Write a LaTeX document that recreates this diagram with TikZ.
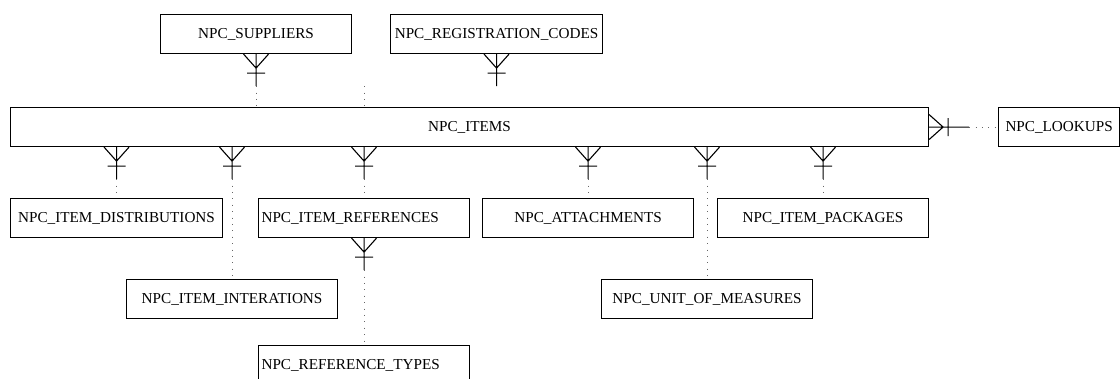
\documentclass[tikz,border=0pt]{standalone}
\usepackage{fontspec}
\setmainfont{Liberation Serif}
\usetikzlibrary{positioning}

\begin{document}
\begin{tikzpicture}[
  x=1pt, y=-1pt,
  every node/.style={font=\fontsize{15.2}{18}\selectfont},
  tbl/.style={rectangle, draw, line width=1.1pt, minimum width=211pt,
              minimum height=39pt, inner xsep=3pt, inner ysep=4pt,
              anchor=north west},
  tblleft/.style={tbl, text width=205pt, align=left},
  rel/.style={draw, line width=1.1pt},
  dotlink/.style={draw=black!60, line width=0.9pt, dash pattern=on 0.9pt off 5.5pt},
  % crow's foot: many-end at the box edge, bar, then a short solid stem
  pics/crow/.style={code={
    \draw[rel] (-12.5,0) -- (0,14) -- (12.5,0) (0,0) -- (0,#1) (-9,19) -- (9,19);
    \coordinate (-end) at (0,#1);
  }},
  pics/crow/.default=32,
]
  \useasboundingbox (0,0) rectangle (1120,378);
  \clip (0,0) rectangle (1120,378);

  % top row
  \node[tbl, minimum width=191pt] at (160,14) (sup) {NPC\_SUPPLIERS};
  \node[tbl, minimum width=212pt] at (390,14) (reg) {NPC\_REGISTRATION\_CODES};

  % main table and its lookup
  \node[tbl, minimum width=918pt] at (10,107) (items) {NPC\_ITEMS};
  \node[tbl, minimum width=121pt, right=69pt of items] (lookups) {NPC\_LOOKUPS};

  % child tables
  \node[tbl, minimum width=212pt] at (10,198) (dist) {NPC\_ITEM\_DISTRIBUTIONS};
  \node[tblleft] at (258,198) (iref) {NPC\_ITEM\_REFERENCES};
  \node[tbl] at (482,198) (att) {NPC\_ATTACHMENTS};
  \node[tbl] at (717,198) (pkg) {NPC\_ITEM\_PACKAGES};
  \node[tbl] at (126,279) (inter) {NPC\_ITEM\_INTERATIONS};
  \node[tbl] at (601,279) (uom) {NPC\_UNIT\_OF\_MEASURES};
  \node[tblleft, anchor=north, below=107pt of iref] (rtype) {NPC\_REFERENCE\_TYPES};

  % suppliers / registration codes -> items
  \pic (sf) at (sup.south) {crow};
  \draw[dotlink] (sf-end) -- (items.north -| sf-end);
  \pic (rf) at (reg.south) {crow};
  \draw[dotlink] (rf-end -| iref.north) -- (items.north -| iref.north);

  % items -> children
  \foreach \c in {dist, inter, iref, att, uom, pkg} {
    \pic (f-\c) at (items.south -| \c.north) {crow};
    \draw[dotlink] (f-\c-end) -- (\c.north);
  }

  % references -> reference types
  \pic (tf) at (iref.south) {crow};
  \draw[dotlink] (tf-end) -- (rtype.north);

  % items -> lookups
  \pic[rotate=90] (lf) at (items.east) {crow=40};
  \draw[dotlink] (lf-end) -- (lookups.west);
\end{tikzpicture}
\end{document}
